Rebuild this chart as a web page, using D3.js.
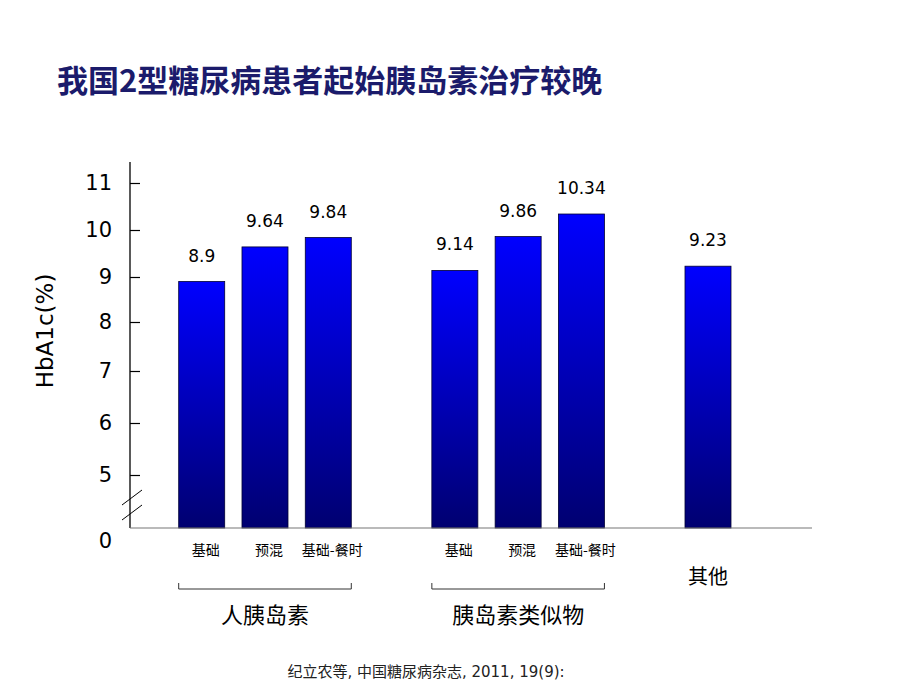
<!DOCTYPE html>
<html><head><meta charset="utf-8">
<script src="https://cdn.jsdelivr.net/npm/d3@7"></script>
<style>body{margin:0;background:#fff}svg{display:block}</style>
</head><body>
<script>
const title = "我国2型糖尿病患者起始胰岛素治疗较晚";
const slots = ["h1","h2","h3","gap1","a1","a2","a3","gap2","o1"];
const categories = ["h1","h2","h3","a1","a2","a3","o1"];
const catLabels = ["基础","预混","基础-餐时","基础","预混","基础-餐时",""];
const values = [8.9, 9.64, 9.84, 9.14, 9.86, 10.34, 9.23];
const valueLabels = ["8.9","9.64","9.84","9.14","9.86","10.34","9.23"];
const yTicks = [5,6,7,8,9,10,11];
const groups = [{name:"人胰岛素", from:"h1", to:"h3"},{name:"胰岛素类似物", from:"a1", to:"a3"}];
const otherLabel = "其他";
const yTitle = "HbA1c(%)";
const source = "纪立农等, 中国糖尿病杂志, 2011, 19(9):";

const W=920,H=690;
const svg=d3.select("body").append("svg").attr("width",W).attr("height",H);
const defs=svg.append("defs");
const g=defs.append("linearGradient").attr("id","bg").attr("x1",0).attr("y1",0).attr("x2",0).attr("y2",1);
g.append("stop").attr("offset","0%").attr("stop-color","#0000ff");
g.append("stop").attr("offset","100%").attr("stop-color","#000070");

const x=d3.scaleBand().domain(slots).range([178.7,731]).paddingInner(0.273).paddingOuter(0);
const y=d3.scaleLinear().domain([0,5,6,7,8,9,10,11]).range([528,475,423,371,322,277,230,183]);
const axisX=130;

svg.append("text").attr("x",57).attr("y",92).text(title)
  .attr("font-family","'Noto Sans CJK SC',sans-serif").attr("font-weight","bold")
  .attr("font-size",31).attr("fill","#1b1b6b");

// y axis
svg.append("line").attr("x1",axisX).attr("x2",axisX).attr("y1",162).attr("y2",y(0)).attr("stroke","#000").attr("stroke-width",1.3);
const ax=svg.append("g").attr("transform",`translate(${axisX},0)`)
  .call(d3.axisLeft(y).tickValues(yTicks).tickSize(-10).tickPadding(18).tickFormat(d3.format("d")));
ax.select(".domain").remove();
ax.selectAll(".tick line").attr("stroke","#000").attr("stroke-width",1.2);
ax.selectAll(".tick text").attr("font-family","Verdana,'DejaVu Sans',sans-serif").attr("font-size",21).attr("fill","#000");
svg.append("text").attr("x",axisX-18).attr("y",y(0)+20).attr("text-anchor","end")
  .attr("font-family","'DejaVu Sans',sans-serif").attr("font-size",21).text("0");
// break marks
[0,15].forEach(o=>svg.append("line").attr("x1",axisX-8).attr("y1",505+o).attr("x2",axisX+12).attr("y2",490+o).attr("stroke","#000").attr("stroke-width",1));

svg.append("text").attr("transform",`translate(53,331) rotate(-90)`).attr("text-anchor","middle")
  .attr("font-family","'DejaVu Sans',sans-serif").attr("font-size",23).text(yTitle);

// bars
svg.selectAll("rect.bar").data(categories).join("rect").attr("class","bar")
  .attr("x",d=>x(d)).attr("width",x.bandwidth())
  .attr("y",(d,i)=>y(values[i])).attr("height",(d,i)=>y(0)-y(values[i]))
  .attr("fill","url(#bg)").attr("stroke","#000033").attr("stroke-width",0.8);
svg.selectAll("text.vl").data(categories).join("text").attr("class","vl")
  .attr("x",d=>x(d)+x.bandwidth()/2).attr("y",(d,i)=>y(values[i])-20)
  .attr("text-anchor","middle").attr("font-family","'DejaVu Sans',sans-serif").attr("font-size",17)
  .text((d,i)=>valueLabels[i]);

// baseline
svg.append("line").attr("x1",axisX).attr("x2",812).attr("y1",y(0)).attr("y2",y(0)).attr("stroke","#777").attr("stroke-width",1.2);

// category labels
svg.selectAll("text.cl").data(categories).join("text").attr("class","cl")
  .attr("x",d=>x(d)+x.bandwidth()/2+4).attr("y",555).attr("text-anchor","middle")
  .attr("font-family","'Noto Sans CJK SC',sans-serif").attr("font-size",14)
  .text((d,i)=>catLabels[i]);
svg.append("text").attr("x",x("o1")+x.bandwidth()/2).attr("y",584).attr("text-anchor","middle")
  .attr("font-family","'Noto Sans CJK SC',sans-serif").attr("font-size",20).text(otherLabel);

// group brackets
groups.forEach(gr=>{
  const x1=x(gr.from), x2=x(gr.to)+x.bandwidth();
  svg.append("path").attr("d",`M${x1},583V589H${x2}V583`).attr("fill","none").attr("stroke","#333").attr("stroke-width",1);
  svg.append("text").attr("x",(x1+x2)/2).attr("y",623).attr("text-anchor","middle")
    .attr("font-family","'Noto Sans CJK SC',sans-serif").attr("font-size",22).text(gr.name);
});

svg.append("text").attr("x",426).attr("y",677).attr("text-anchor","middle")
  .attr("font-family","'DejaVu Sans','Noto Sans CJK SC',sans-serif").attr("font-size",15).attr("fill","#222").text(source);
</script>
</body></html>
